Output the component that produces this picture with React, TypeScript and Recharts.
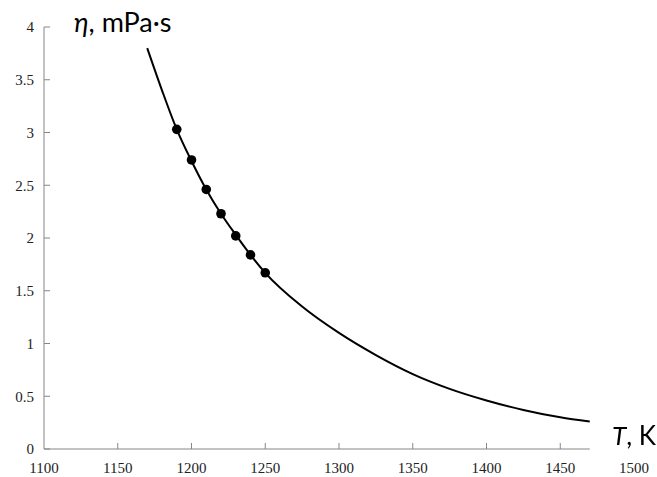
import React from "react";
import { ComposedChart, Line, Scatter, XAxis, YAxis, ReferenceLine } from "recharts";

const curveT = [1170, 1180, 1190, 1200, 1210, 1220, 1230, 1240, 1250, 1275, 1300, 1325, 1350, 1375, 1400, 1425, 1450, 1470];
const curveEta = [3.8, 3.4, 3.03, 2.73, 2.46, 2.23, 2.03, 1.84, 1.67, 1.35, 1.1, 0.89, 0.71, 0.57, 0.46, 0.37, 0.3, 0.26];

const pointT = [1190, 1200, 1210, 1220, 1230, 1240, 1250];
const pointEta = [3.03, 2.74, 2.46, 2.23, 2.02, 1.84, 1.67];

const xTicks = [1100, 1150, 1200, 1250, 1300, 1350, 1400, 1450, 1500];
const yTicks = [0, 0.5, 1, 1.5, 2, 2.5, 3, 3.5, 4];
const xAxisEnd = 1470;

const curveData = curveT.map((T, i) => ({ T, eta: curveEta[i] }));
const pointData = pointT.map((T, i) => ({ T, eta: pointEta[i] }));

const AXIS = "#868686";
const LABEL = "#222222";
const TICK_MARGIN_X = 13;

const XTick = (props: any) => {
  const { x, y, payload } = props;
  const axisY = y - TICK_MARGIN_X;
  return (
    <g>
      {payload.value < xAxisEnd && payload.value > 1100 && (
        <line x1={x} x2={x} y1={axisY} y2={axisY - 6} stroke={AXIS} strokeWidth={1} />
      )}
      <text x={x} y={y} dy="0.71em" textAnchor="middle" fill={LABEL} fontSize={15} fontFamily="'Liberation Serif', serif">
        {payload.value}
      </text>
    </g>
  );
};

const Dot = (props: any) => {
  const { cx, cy } = props;
  return <circle cx={cx} cy={cy} r={4.8} fill="#000" />;
};

export default function App() {
  return (
    <div style={{ position: "fixed", left: 0, top: 0, width: 657, height: 477, background: "#fff" }}>
      <ComposedChart width={657} height={477} margin={{ top: 27, right: 23, bottom: 0, left: 0 }}>
        <XAxis
          type="number"
          dataKey="T"
          domain={[1100, 1500]}
          ticks={xTicks}
          interval={0}
          axisLine={false}
          tickLine={false}
          tickSize={0}
          tickMargin={TICK_MARGIN_X}
          tick={<XTick />}
          height={28}
        />
        <YAxis
          type="number"
          domain={[0, 4]}
          ticks={yTicks}
          interval={0}
          width={44}
          axisLine={{ stroke: AXIS, strokeWidth: 1 }}
          tickLine={{ stroke: AXIS, strokeWidth: 1 }}
          tickSize={-6}
          tickMargin={16}
          tick={{ fill: LABEL, fontSize: 15, fontFamily: "'Liberation Serif', serif" }}
        />
        <ReferenceLine
          segment={[{ x: 1100, y: 0 }, { x: xAxisEnd, y: 0 }]}
          stroke={AXIS}
          strokeWidth={1}
          ifOverflow="visible"
        />
        <Line
          data={curveData}
          dataKey="eta"
          type="monotone"
          stroke="#000"
          strokeWidth={2}
          dot={false}
          activeDot={false}
          isAnimationActive={false}
        />
        <Scatter data={pointData} dataKey="eta" fill="#000" shape={<Dot />} isAnimationActive={false} />
      </ComposedChart>
      <div
        style={{
          position: "absolute",
          left: 74,
          top: 6,
          fontFamily: "Lato, sans-serif",
          fontSize: 27,
          lineHeight: "32px",
          color: "#000",
          whiteSpace: "nowrap",
        }}
      >
        <i>η</i>, mPa·s
      </div>
      <div
        style={{
          position: "absolute",
          left: 612,
          top: 420,
          fontFamily: "Lato, sans-serif",
          fontSize: 26,
          lineHeight: "30px",
          color: "#000",
          whiteSpace: "nowrap",
        }}
      >
        <i>T</i>, K
      </div>
    </div>
  );
}
